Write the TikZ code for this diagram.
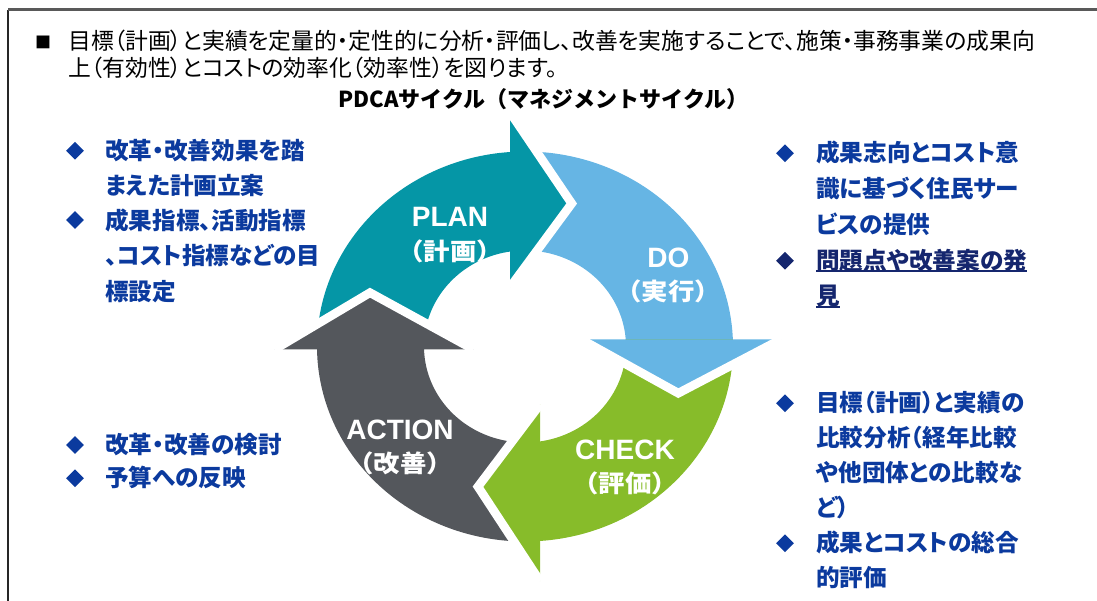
\documentclass[tikz,border=0pt]{standalone}
\usepackage{fontspec}
\setmainfont{Liberation Sans}
\newfontfamily\jp{Noto Sans CJK JP}
\newfontfamily\jpp{Noto Sans CJK JP}[RawFeature=+palt]
\usetikzlibrary{calc}
\definecolor{planc}{HTML}{0596A6}
\definecolor{doc}{HTML}{66B5E4}
\definecolor{checkc}{HTML}{87BC2A}
\definecolor{actc}{HTML}{54575C}
\definecolor{txtblue}{HTML}{0B3A9E}
\definecolor{txtnavy}{HTML}{15266E}
\newcommand\ringbody[5]{%
  \fill[#1] ($(C)+(#2:208pt and 195pt)$)
    arc[start angle=#2, end angle=#3, x radius=208pt, y radius=195pt]
    -- ($(C)+(#4:101pt and 96pt)$)
    arc[start angle=#4, end angle=#5, x radius=101pt, y radius=96pt] -- cycle;}
\begin{document}
\begin{tikzpicture}[x=1pt,y=1pt,
  gapline/.style={white, line width=8.7pt, line join=miter},
  ringlbl/.style={text=white, inner sep=0, font=\bfseries\fontsize{28}{28}\selectfont},
  ringjp/.style={text=white, inner sep=0, xscale=1.1, font=\jp\bfseries\fontsize{24}{24}\selectfont},
  bluetxt/.style={anchor=base west, inner sep=0, text=txtblue, font=\jpp\bfseries\fontsize{23.6}{23.6}\selectfont},
  navytxt/.style={bluetxt, text=txtnavy},
  bul/.style={fill=txtblue, rotate=45, minimum size=12.5pt, inner sep=0},
  para/.style={anchor=base west, inner sep=0, font=\jpp\fontsize{22.8}{22.8}\selectfont}]
\useasboundingbox (0,0) rectangle (1097,601);
% frame
\coordinate (ftl) at (8,591);
\coordinate (ftr) at (1097,591);
\coordinate (fbl) at (8,0);
\draw[line width=2.5pt, black!85] (ftl) -- (fbl);
\draw[line width=3pt, black!65] (ftl) -- (ftr);
% cycle
\coordinate (C) at (525,254.5);
\ringbody{planc}{180.8}{92.6}{97}{181.7}
\ringbody{doc}{94.1}{0.6}{2.8}{98.5}
\ringbody{checkc}{2.1}{-87.4}{-83}{4.3}
\ringbody{actc}{-85.9}{-180.7}{-179.8}{-81.5}
% heads
\coordinate (po) at (510,488.7); \coordinate (pt) at (571.7,397.5); \coordinate (pi) at (510,313.7);
\coordinate (do) at (781.1,261.7); \coordinate (dt) at (678.3,207.8); \coordinate (di) at (581,261.7);
\coordinate (co) at (540,19.8); \coordinate (ct) at (478,114.3); \coordinate (ci) at (540,196.5);
\coordinate (ao) at (274.8,251.7); \coordinate (at) at (370,308.3); \coordinate (ai) at (473.3,251.7);
\fill[planc] (po) -- (pt) -- (pi) -- cycle;
\fill[doc] (do) -- (dt) -- (di) -- cycle;
\fill[checkc] (co) -- (ct) -- (ci) -- cycle;
\fill[actc] (ao) -- (at) -- (ai) -- cycle;
\draw[gapline] (po) -- (pt) -- (pi);
\draw[gapline] (do) -- (dt) -- (di);
\draw[gapline] (co) -- (ct) -- (ci);
\draw[gapline] (ao) -- (at) -- (ai);
% ring labels
\node[ringlbl] (plan) at (450,384.3) {PLAN};
\node[ringjp] (planj) at (450,349.3) {（計画）};
\node[ringlbl] (dolbl) at (668.3,342.7) {DO};
\node[ringjp] (doj) at (668.3,309.3) {（実行）};
\node[ringlbl] (check) at (625,151) {CHECK};
\node[ringjp] (checkj) at (625,117.7) {（評価）};
\node[ringlbl] (action) at (400,171) {ACTION};
\node[ringjp] (actionj) at (400,137.7) {（改善）};
% title and paragraph
\node[inner sep=0, font=\jp\bfseries\fontsize{22}{22}\selectfont] (title) at (543.5,502) {PDCAサイクル（マネジメントサイクル）};
\node[inner sep=0, font=\jp\fontsize{16}{16}\selectfont] (sq) at (43,559) {■};
\node[para] (p1) at (68,551.4) {目標（計画）と実績を定量的・定性的に分析・評価し、改善を実施することで、施策・事務事業の成果向};
\node[para] (p2) at (68,524.1) {上（有効性）とコストの効率化（効率性）を図ります。};
% left top
\node[bul] (b1) at (75,450.3) {};
\node[bluetxt] (l1) at (105,441.9) {改革・改善効果を踏};
\node[bluetxt] (l2) at (105,406.65) {まえた計画立案};
\node[bul] (b2) at (75,381) {};
\node[bluetxt] (l3) at (105,371.4) {成果指標、活動指標};
\node[bluetxt] (l4) at (105,336.15) {、コスト指標などの目};
\node[bluetxt] (l5) at (105,300.9) {標設定};
% left bottom
\node[bul] (b3) at (75,156) {};
\node[bluetxt] (l6) at (105,147.6) {改革・改善の検討};
\node[bul] (b4) at (75,122.7) {};
\node[bluetxt] (l7) at (105,114.3) {予算への反映};
% right top
\node[bul] (b5) at (785,447.7) {};
\node[bluetxt] (r1) at (816,439.3) {成果志向とコスト意};
\node[bluetxt] (r2) at (816,403.5) {識に基づく住民サー};
\node[bluetxt] (r3) at (816,367.7) {ビスの提供};
\node[bul, fill=txtnavy] (b6) at (785,340.3) {};
\node[navytxt] (r4) at (816,331.9) {問題点や改善案の発};
\node[navytxt] (r5) at (816,296.1) {見};
\draw[txtnavy, line width=1.5pt] ([yshift=-2pt]r4.base west) -- ([yshift=-2pt]r4.base east);
\draw[txtnavy, line width=1.5pt] ([yshift=-2pt]r5.base west) -- ([yshift=-2pt]r5.base east);
% right bottom
\node[bul] (b7) at (785,197.7) {};
\node[bluetxt] (s1) at (816,189.3) {目標（計画）と実績の};
\node[bluetxt] (s2) at (816,154.3) {比較分析（経年比較};
\node[bluetxt] (s3) at (816,119.3) {や他団体との比較な};
\node[bluetxt] (s4) at (816,84.3) {ど）};
\node[bul] (b8) at (785,57.7) {};
\node[bluetxt] (s5) at (816,49.3) {成果とコストの総合};
\node[bluetxt] (s6) at (816,14.3) {的評価};
\end{tikzpicture}
\end{document}
